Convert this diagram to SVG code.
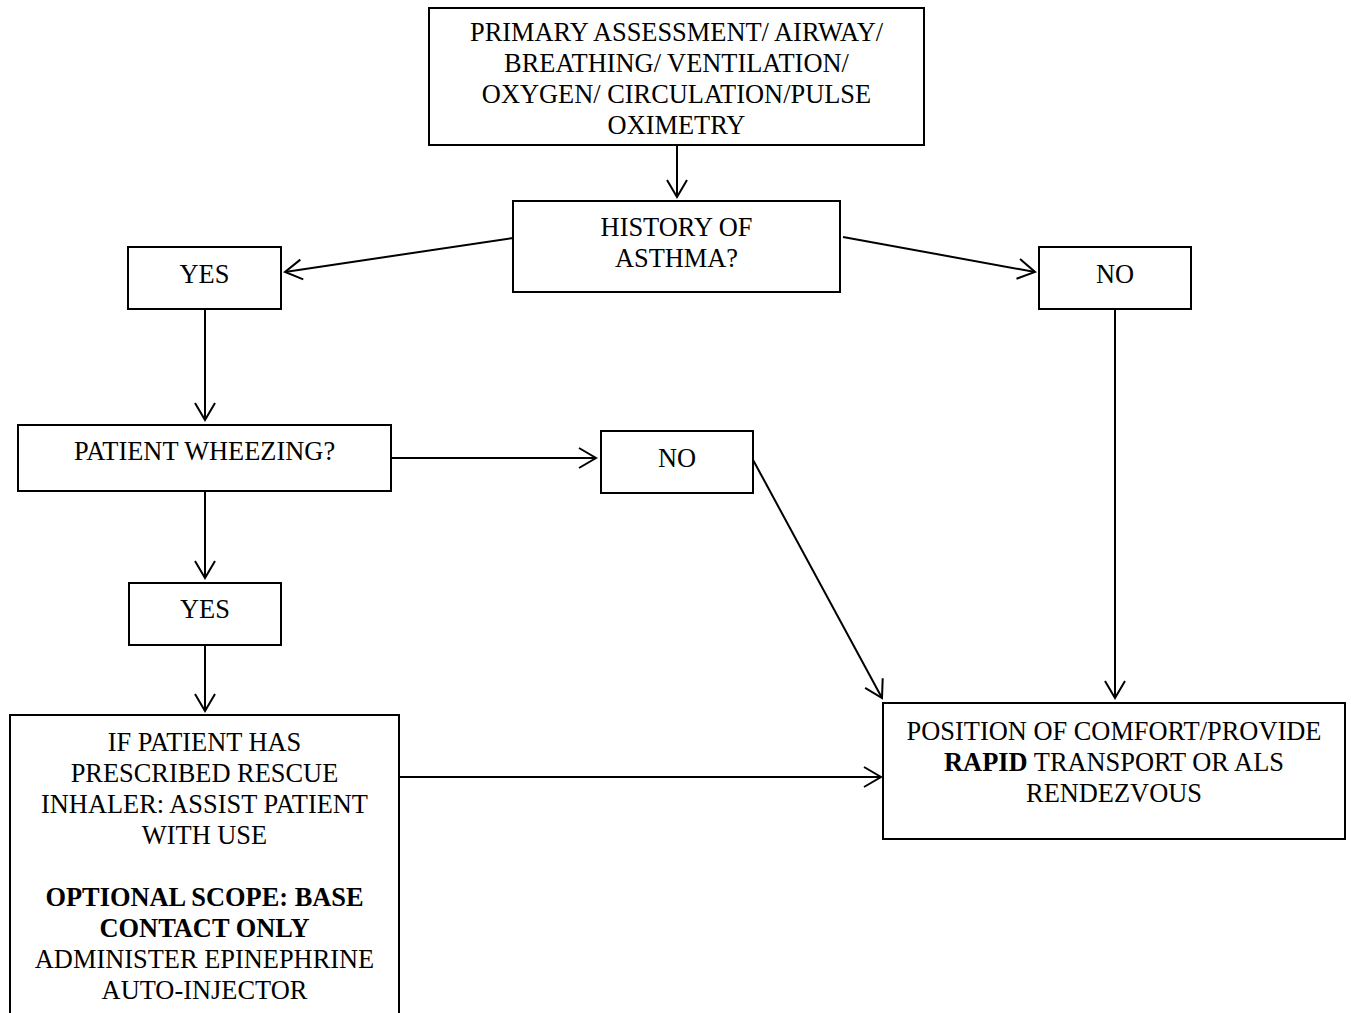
<svg xmlns="http://www.w3.org/2000/svg" width="1351" height="1013" viewBox="0 0 1351 1013">
<style>
.box{fill:#fff;stroke:#000;stroke-width:2}
.t{font-family:'Liberation Serif','Times New Roman',Times,'DejaVu Serif',serif;font-size:26.4px;fill:#000;text-anchor:middle}
.b{font-weight:bold}
.c{stroke:#000;stroke-width:2;fill:none}
</style>
<defs>
<marker id="arr" markerUnits="userSpaceOnUse" markerWidth="22" markerHeight="24" viewBox="-19 -12 22 24" refX="0" refY="0" orient="auto">
<path d="M-17,-10 L0,0 L-17,10" fill="none" stroke="#000" stroke-width="2"/>
</marker>
</defs>
<rect width="1351" height="1013" fill="#fff"/>
<g id="connectors">
<line class="c" x1="677" y1="145" x2="677" y2="197" marker-end="url(#arr)"/>
<line class="c" x1="513" y1="238" x2="285" y2="272" marker-end="url(#arr)"/>
<line class="c" x1="843" y1="237" x2="1035" y2="272" marker-end="url(#arr)"/>
<line class="c" x1="205" y1="309" x2="205" y2="420" marker-end="url(#arr)"/>
<line class="c" x1="391" y1="458" x2="596" y2="458" marker-end="url(#arr)"/>
<line class="c" x1="752" y1="458" x2="882" y2="698" marker-end="url(#arr)"/>
<line class="c" x1="205" y1="491" x2="205" y2="578" marker-end="url(#arr)"/>
<line class="c" x1="205" y1="645" x2="205" y2="711" marker-end="url(#arr)"/>
<line class="c" x1="399" y1="777" x2="881" y2="777" marker-end="url(#arr)"/>
<line class="c" x1="1115" y1="309" x2="1115" y2="698" marker-end="url(#arr)"/>
</g>
<g id="primary">
<rect class="box" x="429" y="8" width="495" height="137"/>
<text class="t" x="676.5" y="41">PRIMARY ASSESSMENT/ AIRWAY/</text>
<text class="t" x="676.5" y="72">BREATHING/ VENTILATION/</text>
<text class="t" x="676.5" y="103">OXYGEN/ CIRCULATION/PULSE</text>
<text class="t" x="676.5" y="134">OXIMETRY</text>
</g>
<g id="history">
<rect class="box" x="513" y="201" width="327" height="91"/>
<text class="t" x="676.5" y="236">HISTORY OF</text>
<text class="t" x="676.5" y="267">ASTHMA?</text>
</g>
<g id="yes1">
<rect class="box" x="128" y="247" width="153" height="62"/>
<text class="t" x="204.5" y="283">YES</text>
</g>
<g id="no1">
<rect class="box" x="1039" y="247" width="152" height="62"/>
<text class="t" x="1115" y="283">NO</text>
</g>
<g id="wheezing">
<rect class="box" x="18" y="425" width="373" height="66"/>
<text class="t" x="204.5" y="460">PATIENT WHEEZING?</text>
</g>
<g id="no2">
<rect class="box" x="601" y="431" width="152" height="62"/>
<text class="t" x="677" y="467">NO</text>
</g>
<g id="yes2">
<rect class="box" x="129" y="583" width="152" height="62"/>
<text class="t" x="205" y="618">YES</text>
</g>
<g id="inhaler">
<rect class="box" x="10" y="715" width="389" height="310"/>
<text class="t" x="204.5" y="751">IF PATIENT HAS</text>
<text class="t" x="204.5" y="782">PRESCRIBED RESCUE</text>
<text class="t" x="204.5" y="813">INHALER: ASSIST PATIENT</text>
<text class="t" x="204.5" y="844">WITH USE</text>
<text class="t b" x="204.5" y="906">OPTIONAL SCOPE: BASE</text>
<text class="t b" x="204.5" y="937">CONTACT ONLY</text>
<text class="t" x="204.5" y="968">ADMINISTER EPINEPHRINE</text>
<text class="t" x="204.5" y="999">AUTO-INJECTOR</text>
</g>
<g id="position">
<rect class="box" x="883" y="703" width="462" height="136"/>
<text class="t" x="1114" y="740">POSITION OF COMFORT/PROVIDE</text>
<text class="t" x="1114" y="771"><tspan class="b">RAPID</tspan> TRANSPORT OR ALS</text>
<text class="t" x="1114" y="802">RENDEZVOUS</text>
</g>
</svg>
